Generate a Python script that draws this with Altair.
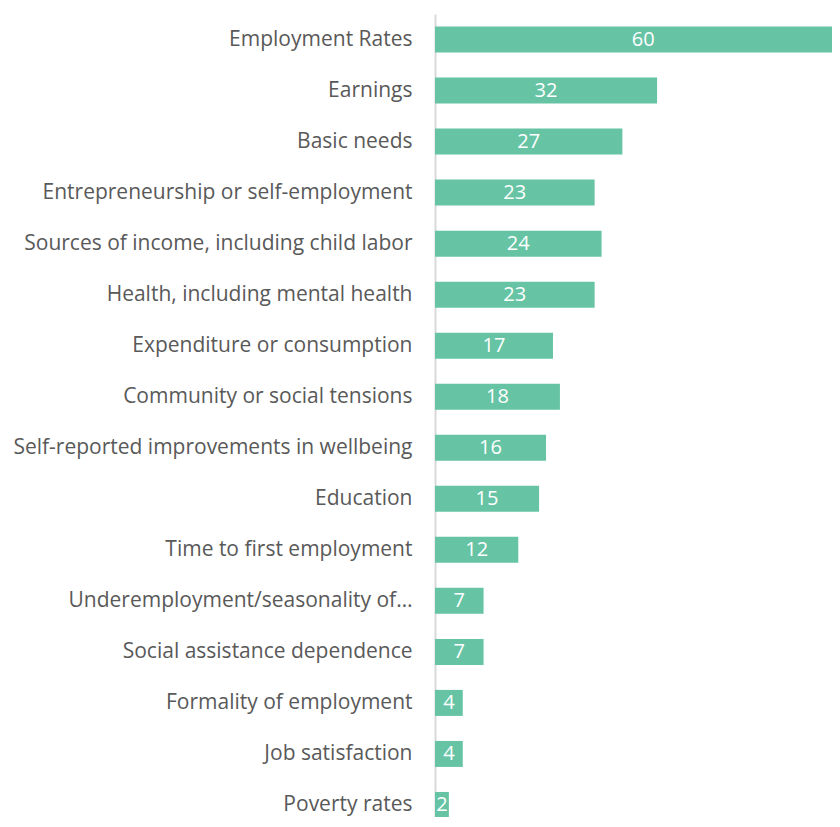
import json
import altair as alt
import pandas as pd

categories = [
    "Employment Rates",
    "Earnings",
    "Basic needs",
    "Entrepreneurship or self-employment",
    "Sources of income, including child labor",
    "Health, including mental health",
    "Expenditure or consumption",
    "Community or social tensions",
    "Self-reported improvements in wellbeing",
    "Education",
    "Time to first employment",
    "Underemployment/seasonality of…",
    "Social assistance dependence",
    "Formality of employment",
    "Job satisfaction",
    "Poverty rates",
]
values = [60, 32, 27, 23, 24, 23, 17, 18, 16, 15, 12, 7, 7, 4, 4, 2]

df = pd.DataFrame({"idx": list(range(len(categories))), "category": categories, "value": values})

FONT = "Open Sans"
BAR = "#66C4A5"

label_expr = json.dumps(categories) + "[datum.value]"

PLOT_H = 803
STEP = 51.03
HALF = 13 / STEP
y_scale = alt.Scale(domain=[-0.5, (PLOT_H - STEP / 2) / STEP], reverse=True, nice=False, zero=False)
x_scale = alt.Scale(domain=[0, 397 / 6.94], nice=False, zero=True)

base = alt.Chart(df).transform_calculate(
    y0=f"datum.idx - {HALF}",
    y1=f"datum.idx + {HALF}",
    half="datum.value / 2",
    zero="0",
)

bars = base.mark_bar(color=BAR, clip=True).encode(
    x=alt.X("zero:Q", scale=x_scale, axis=None),
    x2="value:Q",
    y=alt.Y(
        "y0:Q",
        scale=y_scale,
        axis=alt.Axis(
            values=list(range(len(categories))),
            labelExpr=label_expr,
            title=None,
            ticks=False,
            grid=False,
            domain=True,
            domainColor="#D9D9D9",
            domainWidth=2,
            labelFont=FONT,
            labelFontSize=21,
            labelColor="#595959",
            labelPadding=23,
            labelOverlap=False,
            labelFlush=False,
            labelBound=False,
            labelLimit=0,
        ),
    ),
    y2="y1:Q",
)

texts = base.mark_text(
    color="white", font=FONT, fontSize=20, baseline="middle", align="center"
).encode(
    x=alt.X("half:Q", scale=x_scale, axis=None),
    y=alt.Y("idx:Q", scale=y_scale),
    text=alt.Text("value:Q"),
)

chart = (
    alt.layer(bars, texts)
    .properties(
        width=397,
        height=PLOT_H,
        autosize=alt.AutoSizeParams(type="none"),
        padding={"left": 427, "top": 6, "right": 0, "bottom": 0},
    )
    .configure_view(stroke=None)
)

chart.save("out.html", embed_options={"renderer": "svg", "actions": False})
